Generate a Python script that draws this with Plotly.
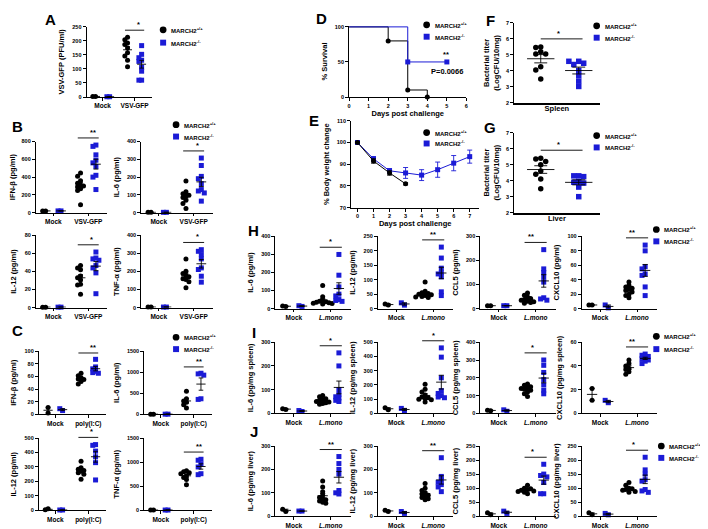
import numpy as np
import plotly.graph_objects as go

# ===================== DATA =====================
# each dot-plot list: [mock values, infected values]
A_CATS = ["Mock", "VSV-GFP"]
A_WT = [[2, 2], [213, 204, 192, 187, 175, 158, 146, 131, 108]]
A_KO = [[1, 1], [183, 152, 140, 131, 127, 106, 92, 60, 60]]

B_CATS = ["Mock", "VSV-GFP"]
B_IFNB_WT = [[20, 20], [445, 410, 360, 330, 310, 300, 290, 270, 250, 90]]
B_IFNB_KO = [[20, 20], [760, 745, 650, 590, 560, 520, 420, 400, 260]]
B_IL6_WT = [[2, 2], [178, 117, 107, 98, 93, 85, 70, 52, 24]]
B_IL6_KO = [[2, 2], [307, 265, 204, 191, 163, 130, 122, 111, 65]]
B_IL12_WT = [[0.5, 0.5], [46.6, 44, 42, 35, 33, 31, 26, 25, 14.7]]
B_IL12_KO = [[0.5, 0.5], [61.6, 55, 54, 52.5, 46.6, 44, 38.5, 15.4]]
B_TNF_WT = [[3, 3], [270, 202, 189, 178, 171, 160, 156, 143, 110]]
B_TNF_KO = [[3, 3], [321, 312, 294, 270, 220, 211, 174, 141]]

C_CATS = ["Mock", "poly(I:C)"]
C_IFNB_WT = [[11, 2], [65, 61, 58, 56, 55, 52, 48]]
C_IFNB_KO = [[6, 9], [87, 75, 72, 68, 66, 65]]
C_IL6_WT = [[5, 5], [550, 370, 320, 290, 230, 150]]
C_IL6_KO = [[5, 5], [975, 960, 930, 370, 355]]
C_IL12_WT = [[10, 3], [340, 295, 285, 275, 270, 260, 250, 215]]
C_IL12_KO = [[2, 2], [455, 450, 410, 370, 330, 210]]
C_TNF_WT = [[5, 5], [820, 800, 780, 760, 720, 680, 640, 530]]
C_TNF_KO = [[5, 5], [1060, 1040, 960, 900, 760, 740]]

D_DAYS_WT = [0, 2, 3, 4]
D_SURV_WT = [100, 80, 10, 0]
D_DAYS_KO = [0, 3, 5]
D_SURV_KO = [100, 50, 50]

E_DAYS_WT = [0, 1, 2, 3]
E_WT = [100, 91.5, 86, 81]
E_WT_SEM = [0.3, 1, 1, 0.5]
E_DAYS_KO = [0, 1, 2, 3, 4, 5, 6, 7]
E_KO = [100, 92.5, 87, 86, 85, 87.5, 90.5, 93.5]
E_KO_SEM = [0.3, 1, 1, 2.5, 2.5, 3.5, 3.5, 3]

F_WT = [5.5, 5.46, 5.2, 5.05, 5.05, 4.26, 4.06, 3.5]
F_KO = [4.6, 4.4, 4.48, 4.6, 4.02, 3.7, 3.36, 3.03]
G_WT = [5.4, 5.35, 5.2, 5.0, 4.6, 4.4, 4.1, 3.5]
G_KO = [4.3, 4.3, 4.25, 3.95, 3.9, 3.85, 3.6, 3.0]

L_CATS = ["Mock", "<i>L.mono</i>"]
H_IL6_WT = [[12, 14], [128, 65, 45, 40, 38, 35, 33, 30, 28, 25]]
H_IL6_KO = [[12, 16], [300, 185, 120, 80, 70, 50, 45, 40]]
H_IL12_WT = [[12, 16], [92, 60, 55, 52, 50, 48, 45, 42, 40, 38]]
H_IL12_KO = [[12, 20], [213, 175, 140, 125, 120, 110, 58, 45]]
H_CCL5_WT = [[12, 12], [65, 55, 48, 42, 38, 35, 30, 28, 25, 22]]
H_CCL5_KO = [[12, 12], [245, 165, 150, 130, 110, 45, 40, 35]]
H_CXCL10_WT = [[5, 5], [37, 32, 30, 28, 27, 25, 23, 20, 18, 15]]
H_CXCL10_KO = [[1, 5], [88, 80, 58, 55, 48, 46, 30, 18]]

I_IL6_WT = [[16, 20], [75, 70, 62, 58, 55, 50, 48, 45, 42, 38]]
I_IL6_KO = [[8, 12], [255, 200, 100, 80, 70, 65, 55, 50]]
I_IL12_WT = [[25, 40], [205, 170, 150, 130, 115, 110, 105, 100, 95, 80]]
I_IL12_KO = [[20, 35], [460, 395, 250, 160, 140, 125, 115, 110]]
I_CCL5_WT = [[15, 18], [165, 158, 150, 145, 140, 135, 130, 120, 110, 95]]
I_CCL5_KO = [[12, 20], [300, 270, 230, 190, 160, 130, 110]]
I_CXCL10_WT = [[21, 11], [45, 42, 40, 38, 37, 35, 33]]
I_CXCL10_KO = [[9, 11], [50, 49, 48, 47, 46, 45, 44, 42]]

J_IL6_WT = [[20, 30], [150, 125, 105, 90, 80, 75, 70, 65, 60, 55]]
J_IL6_KO = [[22, 22], [255, 225, 200, 180, 110, 100, 95]]
J_IL12_WT = [[20, 25], [140, 120, 110, 100, 95, 90, 85, 80, 75, 70]]
J_IL12_KO = [[12, 20], [250, 170, 155, 145, 135, 125, 105]]
J_CCL5_WT = [[5, 12], [110, 100, 98, 95, 92, 90, 88, 85, 80]]
J_CCL5_KO = [[10, 18], [185, 150, 145, 140, 120, 80, 80]]
J_CXCL10_WT = [[5, 12], [120, 110, 100, 98, 95, 92, 88, 85]]
J_CXCL10_KO = [[5, 10], [210, 165, 150, 130, 125, 95, 90, 85]]

WT_LABEL = "MARCH2<sup>+/+</sup>"
KO_LABEL = "MARCH2<sup>-/-</sup>"

# ===================== STYLE / LAYOUT HELPERS =====================
W, H = 708, 529
FONT = "Liberation Sans, Arial, sans-serif"
BLUE = "#1b1bd6"
TICKFONT = dict(family=FONT, size=5.5, color="black", weight="bold")
CATFONT = dict(family=FONT, size=6.5, color="black", weight="bold")
TITLEFONT = dict(family=FONT, size=7.5, color="black", weight="bold")
LEGFONT = dict(family=FONT, size=6, color="black", weight="bold")
STARFONT = dict(family=FONT, size=7.5, color="black", weight="bold")

fig = go.Figure()
layout = {}
ann = []
shp = []
_n = [0]


def fx(p):
    return p / W


def fy(p):
    return 1 - p / H


def new_axes():
    _n[0] += 1
    s = "" if _n[0] == 1 else str(_n[0])
    return "x" + s, "y" + s, "xaxis" + s, "yaxis" + s


def base_axis(**kw):
    d = dict(showline=True, linecolor="black", linewidth=1, ticks="outside",
             ticklen=3, tickwidth=1, tickcolor="black", showgrid=False,
             zeroline=False, tickfont=TICKFONT, fixedrange=True)
    d.update(kw)
    return d


def mapper(box, xrng, yrng):
    x0, x1, yt, yb = box

    def to_paper(x, y):
        px = x0 + (x - xrng[0]) / (xrng[1] - xrng[0]) * (x1 - x0)
        py = yb - (y - yrng[0]) / (yrng[1] - yrng[0]) * (yb - yt)
        return fx(px), fy(py)
    return to_paper


def swarm(vals, span, step):
    th = 0.05 * span
    offs = []
    for i, v in enumerate(vals):
        used = [offs[j] for j in range(i) if abs(vals[j] - v) < th]
        for c in (0, -1, 1, -2, 2, -3, 3, -4, 4):
            if all(abs(c * step - u) > 1e-9 for u in used):
                offs.append(c * step)
                break
        else:
            offs.append(0)
    return offs


def mean_sem(c, vals, xr, yr, hw=0.14, cw=0.07):
    m = float(np.mean(vals))
    s = float(np.std(vals, ddof=1) / np.sqrt(len(vals)))
    xs = [c - hw, c + hw, None, c, c, None, c - cw, c + cw, None, c - cw, c + cw]
    ys = [m, m, None, m - s, m + s, None, m + s, m + s, None, m - s, m - s]
    fig.add_trace(go.Scatter(x=xs, y=ys, mode="lines", line=dict(color="black", width=0.9),
                             xaxis=xr, yaxis=yr, cliponaxis=False, showlegend=False,
                             hoverinfo="skip"))


def sig_bar(xa, xb, y, text, to_paper):
    pa = to_paper(xa, y)
    pb = to_paper(xb, y)
    shp.append(dict(type="line", xref="paper", yref="paper", x0=pa[0], x1=pb[0],
                    y0=pa[1], y1=pb[1], line=dict(color="black", width=0.9)))
    ann.append(dict(x=(pa[0] + pb[0]) / 2, y=pa[1], xref="paper", yref="paper", text=text,
                    showarrow=False, yanchor="bottom", yshift=-1, font=STARFONT))


def dot_panel(wt, ko, cats, box, ymax, dtick, ytitle, sig):
    xr, yr, xk, yk = new_axes()
    x0, x1, yt, yb = box
    xrng = [-0.5, 1.55]
    layout[xk] = base_axis(domain=[fx(x0), fx(x1)], range=xrng, anchor=yr, ticklen=2.5,
                           tickvals=[0, 1], ticktext=cats, tickfont=CATFONT)
    layout[yk] = base_axis(domain=[fy(yb), fy(yt)], range=[0, ymax], anchor=xr, dtick=dtick,
                           title=dict(text=ytitle, font=TITLEFONT, standoff=6))
    for ci in range(2):
        for grp, off, sym, col in ((wt, -0.22, "circle", "black"), (ko, 0.22, "square", BLUE)):
            vals = grp[ci]
            xs = [ci + off + o for o in swarm(vals, ymax, 0.085)]
            fig.add_trace(go.Scatter(x=xs, y=vals, mode="markers",
                                     marker=dict(symbol=sym, size=5, color=col, line=dict(width=0)),
                                     xaxis=xr, yaxis=yr, cliponaxis=False, showlegend=False))
            mean_sem(ci + off, vals, xr, yr)
    top = max(max(wt[1]), max(ko[1])) + 0.1 * ymax
    sig_bar(0.7, 1.3, top, sig, mapper(box, xrng, [0, ymax]))


def titer_panel(wt, ko, box, label, sig):
    xr, yr, xk, yk = new_axes()
    x0, x1, yt, yb = box
    xrng = [-0.7, 1.55]
    layout[xk] = base_axis(domain=[fx(x0), fx(x1)], range=xrng, anchor=yr,
                           ticks="", showticklabels=False, linewidth=1.6,
                           title=dict(text=label, font=TITLEFONT, standoff=2))
    layout[yk] = base_axis(domain=[fy(yb), fy(yt)], range=[2, 7], dtick=1, anchor=xr,
                           title=dict(text="Bacterial titer<br>(LogCFU/10mg)", font=TITLEFONT, standoff=5))
    for grp, c, sym, col in ((wt, 0, "circle", "black"), (ko, 1, "square", BLUE)):
        xs = [c + o for o in swarm(grp, 5, 0.13)]
        fig.add_trace(go.Scatter(x=xs, y=grp, mode="markers",
                                 marker=dict(symbol=sym, size=5.5, color=col, line=dict(width=0)),
                                 xaxis=xr, yaxis=yr, cliponaxis=False, showlegend=False))
        mean_sem(c, grp, xr, yr, hw=0.36, cw=0.17)
    top = max(max(wt), max(ko)) + 0.5
    sig_bar(0, 1.1, top, sig, mapper(box, xrng, [2, 7]))


def legend(px, py1, py2):
    r = 3.4
    shp.append(dict(type="circle", xref="paper", yref="paper", x0=fx(px - r), x1=fx(px + r),
                    y0=fy(py1 + r), y1=fy(py1 - r), fillcolor="black", line=dict(width=0)))
    q = 3.0
    shp.append(dict(type="rect", xref="paper", yref="paper", x0=fx(px - q), x1=fx(px + q),
                    y0=fy(py2 + q), y1=fy(py2 - q), fillcolor=BLUE, line=dict(width=0)))
    for py, t in ((py1, WT_LABEL), (py2, KO_LABEL)):
        ann.append(dict(x=fx(px + 6), y=fy(py), xref="paper", yref="paper", text=t,
                        showarrow=False, xanchor="left", yanchor="middle", font=LEGFONT))


def letter(t, px, py):
    ann.append(dict(x=fx(px), y=fy(py), xref="paper", yref="paper", text=t, showarrow=False,
                    xanchor="center", yanchor="middle",
                    font=dict(family=FONT, size=15, color="black", weight="bold")))


# ===================== PANELS =====================
# A
dot_panel(A_WT, A_KO, A_CATS, (77, 143, 16, 87), 250, 50, "VSV-GFP (PFU/ml)", "*")
# B
dot_panel(B_IFNB_WT, B_IFNB_KO, B_CATS, (26, 98, 132, 204), 800, 200, "IFN-β (pg/ml)", "**")
dot_panel(B_IL6_WT, B_IL6_KO, B_CATS, (132, 204, 132, 204), 400, 100, "IL-6 (pg/ml)", "*")
dot_panel(B_IL12_WT, B_IL12_KO, B_CATS, (26, 98, 227, 300), 80, 20, "IL-12 (pg/ml)", "*")
dot_panel(B_TNF_WT, B_TNF_KO, B_CATS, (132, 204, 227, 300), 400, 100, "TNF-α (pg/ml)", "*")
# C
dot_panel(C_IFNB_WT, C_IFNB_KO, C_CATS, (29, 97, 344, 408), 100, 20, "IFN-β (pg/ml)", "**")
dot_panel(C_IL6_WT, C_IL6_KO, C_CATS, (135, 203, 344, 408), 1500, 500, "IL-6 (pg/ml)", "**")
dot_panel(C_IL12_WT, C_IL12_KO, C_CATS, (29, 97, 432, 505), 500, 100, "IL-12 (pg/ml)", "*")
dot_panel(C_TNF_WT, C_TNF_KO, C_CATS, (135, 203, 432, 505), 1500, 500, "TNF-α (pg/ml)", "**")

# D survival
xr, yr, xk, yk = new_axes()
layout[xk] = base_axis(domain=[fx(341), fx(459)], range=[0, 6], dtick=1, anchor=yr,
                       title=dict(text="Days post challenge", font=TITLEFONT, standoff=2))
layout[yk] = base_axis(domain=[fy(87), fy(15)], range=[0, 101.5], tickvals=[0, 50, 100], anchor=xr,
                       title=dict(text="% Survival", font=TITLEFONT, standoff=6))
for dx, dy, col, sym in ((D_DAYS_WT, D_SURV_WT, "black", "circle"), (D_DAYS_KO, D_SURV_KO, BLUE, "square")):
    fig.add_trace(go.Scatter(x=dx, y=dy, mode="lines", line=dict(color=col, width=1, shape="hv"),
                             xaxis=xr, yaxis=yr, cliponaxis=False, showlegend=False))
    fig.add_trace(go.Scatter(x=dx[1:], y=dy[1:], mode="markers",
                             marker=dict(symbol=sym, size=5, color=col), xaxis=xr, yaxis=yr,
                             cliponaxis=False, showlegend=False))
ann.append(dict(x=4.95, y=60, xref=xr, yref=yr, text="**", showarrow=False, font=STARFONT))
ann.append(dict(x=5.0, y=36, xref=xr, yref=yr, text="P=0.0066", showarrow=False, font=TITLEFONT))

# E body weight
xr, yr, xk, yk = new_axes()
layout[xk] = base_axis(domain=[fx(343), fx(472)], range=[-0.4, 7.6], tickvals=list(range(8)), anchor=yr,
                       title=dict(text="Days post challenge", font=TITLEFONT, standoff=2))
layout[yk] = base_axis(domain=[fy(199), fy(111)], range=[70, 110], dtick=10, anchor=xr,
                       title=dict(text="% Body weight change", font=TITLEFONT, standoff=6))
for dx, dy, de, col, sym in ((E_DAYS_KO, E_KO, E_KO_SEM, BLUE, "square"),
                             (E_DAYS_WT, E_WT, E_WT_SEM, "black", "circle")):
    fig.add_trace(go.Scatter(x=dx, y=dy, mode="lines+markers", line=dict(color=col, width=1),
                             marker=dict(symbol=sym, size=5, color=col),
                             error_y=dict(type="data", array=de, color=col, thickness=0.9, width=2.5),
                             xaxis=xr, yaxis=yr, cliponaxis=False, showlegend=False))

# F, G
titer_panel(F_WT, F_KO, (507, 593, 12, 93), "Spleen", "*")
titer_panel(G_WT, G_KO, (507, 593, 123, 204), "Liver", "*")

# H, I, J
cols = [267, 370, 473, 575]
wdt = 76
H_SET = [(H_IL6_WT, H_IL6_KO, 400, 100, "IL-6 (pg/ml)", "*"),
         (H_IL12_WT, H_IL12_KO, 250, 50, "IL-12 (pg/ml)", "**"),
         (H_CCL5_WT, H_CCL5_KO, 300, 100, "CCL5 (pg/ml)", "**"),
         (H_CXCL10_WT, H_CXCL10_KO, 100, 20, "CXCL10 (pg/ml)", "**")]
I_SET = [(I_IL6_WT, I_IL6_KO, 300, 100, "IL-6 (pg/mg spleen)", "*"),
         (I_IL12_WT, I_IL12_KO, 500, 100, "IL-12 (pg/mg spleen)", "*"),
         (I_CCL5_WT, I_CCL5_KO, 400, 100, "CCL5 (pg/mg spleen)", "*"),
         (I_CXCL10_WT, I_CXCL10_KO, 60, 20, "CXCL10 (pg/mg spleen)", "**")]
J_SET = [(J_IL6_WT, J_IL6_KO, 300, 100, "IL-6 (pg/mg liver)", "**"),
         (J_IL12_WT, J_IL12_KO, 300, 100, "IL-12 (pg/mg liver)", "**"),
         (J_CCL5_WT, J_CCL5_KO, 250, 50, "CCL5 (pg/mg liver)", "*"),
         (J_CXCL10_WT, J_CXCL10_KO, 250, 50, "CXCL10 (pg/mg liver)", "*")]
for rowset, (yt, yb) in ((H_SET, (228, 301)), (I_SET, (335, 407)), (J_SET, (440, 511))):
    for cx, (wt, ko, ymax, dt, title, sig) in zip(cols, rowset):
        dot_panel(wt, ko, L_CATS, (cx, cx + wdt, yt, yb), ymax, dt, title, sig)

# legends
legend(154, 19, 32)
legend(167, 115, 127)
legend(167, 330, 342)
legend(419, 14, 26)
legend(419, 123, 134)
legend(590, 15, 27)
legend(590, 126, 138)
legend(650, 221, 233)
legend(650, 329, 342)
legend(655, 440, 452)

# panel letters
for t, px, py in (("A", 41, 9), ("B", 8, 117), ("C", 8, 323), ("D", 313, 8), ("E", 306, 111),
                  ("F", 483, 10), ("G", 483, 118), ("H", 245, 222), ("I", 245, 325), ("J", 245, 425)):
    letter(t, px, py)

layout.update(dict(width=W, height=H, margin=dict(l=0, r=0, t=0, b=0),
                   paper_bgcolor="white", plot_bgcolor="white", showlegend=False,
                   font=dict(family=FONT, color="black"), annotations=ann, shapes=shp))
fig.update_layout(**layout)
fig.write_html("out.html")
